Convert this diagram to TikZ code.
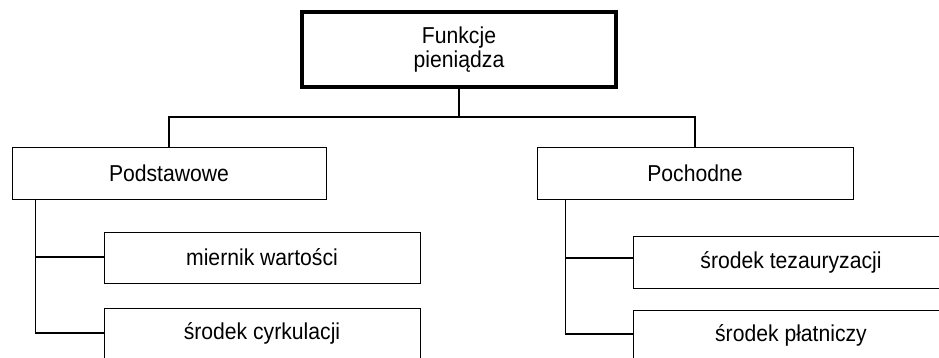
\documentclass[tikz,border=0pt]{standalone}
\usepackage{fontspec}
\setmainfont{Liberation Sans}
\newfontfamily\boxfont[FakeStretch=0.92]{Liberation Sans}
\usetikzlibrary{calc}
\begin{document}
\begin{tikzpicture}[x=1pt,y=-1pt,
  box/.style={draw=black,line width=0.9pt,rectangle,inner sep=0pt,
    font=\boxfont\fontsize{23}{24.5}\selectfont,align=center},
  rootbox/.style={box,line width=3.5pt},
  link/.style={draw=black,line width=1.4pt}]
\useasboundingbox (0,0) rectangle (939,358);

% root
\node[rootbox,minimum width=314pt,minimum height=75pt] (root) at (459,49.5) {Funkcje\\pieniądza};

% two main groups
\node[box,minimum width=314pt,minimum height=52pt] (base) at (169,173) {Podstawowe};
\node[box,minimum width=316pt,minimum height=52pt] (deriv) at (695,173) {Pochodne};

% basic functions
\node[box,minimum width=316pt,minimum height=51pt] (measure) at (262,257.5) {miernik wartości};
\node[box,minimum width=316pt,minimum height=51pt] (circ) at (262,333.5) {środek cyrkulacji};

% derived functions
\node[box,minimum width=316pt,minimum height=52pt] (hoard) at (791,262) {środek tezauryzacji};
\node[box,minimum width=316pt,minimum height=51pt] (pay) at (791,335.5) {środek płatniczy};

% tree connectors
\coordinate (bus) at (459,117);
\draw[link] (root.south) -- (bus);
\draw[link] (base.north) |- (bus) -| (deriv.north);

\coordinate (lspine) at ($(base.south west)+(24,0)$);
\draw[link] (lspine) |- ($(measure.west)+(0,-0.5)$);
\draw[link] (lspine) |- ($(circ.west)+(0,-0.5)$);

\coordinate (rspine) at ($(deriv.south west)+(29,0)$);
\draw[link] (rspine) |- ($(hoard.west)+(0,-4)$);
\draw[link] (rspine) |- ($(pay.west)+(0,-1.5)$);
\end{tikzpicture}
\end{document}
